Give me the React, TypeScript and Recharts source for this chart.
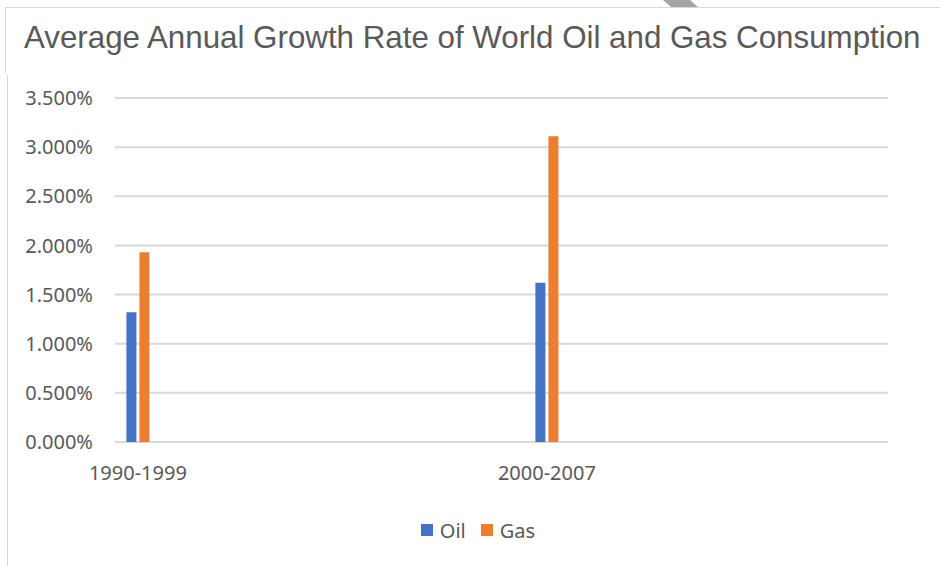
import { FC } from "react";
import {
  Bar,
  BarChart,
  CartesianGrid,
  Legend,
  XAxis,
  YAxis,
} from "recharts";

// growth rates in percent per year
const periods = ["1990-1999", "2000-2007"];
const seriesNames = ["Oil", "Gas"];
const oilGrowth = [1.32, 1.62];
const gasGrowth = [1.93, 3.11];
const yTicks = [0, 0.5, 1, 1.5, 2, 2.5, 3, 3.5];

const chartData = periods.map((period, idx) => ({
  idx,
  period,
  oil: oilGrowth[idx],
  gas: gasGrowth[idx],
}));

const textColor = "#595959";
const gridColor = "#d9d9d9";
const labelFont = "'Noto Sans', 'Open Sans', sans-serif";

const renderLegend = (props: any) => {
  const items = [...(props.payload || [])].sort(
    (a: any, b: any) =>
      seriesNames.indexOf(a.value) - seriesNames.indexOf(b.value)
  );
  return (
    <div
      style={{
        display: "flex",
        justifyContent: "center",
        alignItems: "center",
        height: 24,
        fontFamily: labelFont,
        fontSize: 20,
        color: textColor,
      }}
    >
      {items.map((item: any, i: number) => (
        <span
          key={item.value}
          style={{
            display: "flex",
            alignItems: "center",
            marginLeft: i === 0 ? 0 : 15,
          }}
        >
          <span
            style={{
              display: "inline-block",
              width: 12,
              height: 12,
              background: item.color,
              marginRight: 7,
            }}
          />
          {item.value}
        </span>
      ))}
    </div>
  );
};

const GrowthChart: FC = () => {
  return (
    <div
      style={{
        position: "absolute",
        left: 0,
        top: 0,
        width: 940,
        height: 566,
        overflow: "hidden",
        background: "#fff",
      }}
    >
      <svg
        width={940}
        height={566}
        style={{ position: "absolute", left: 0, top: 0 }}
      >
        <line x1={5.5} y1={7.5} x2={940} y2={7.5} stroke={gridColor} />
        <line x1={5.5} y1={7} x2={5.5} y2={73} stroke={gridColor} />
        <line x1={7.5} y1={75} x2={7.5} y2={566} stroke={gridColor} />
        <polygon points="663,0 690,0 698,7 671,7" fill="#a3a3a3" />
        <text
          x={24}
          y={48}
          fontFamily="'Liberation Sans', Arial, sans-serif"
          fontSize={31.3}
          fill={textColor}
        >
          Average Annual Growth Rate of World Oil and Gas Consumption
        </text>
      </svg>
      <div style={{ position: "absolute", left: 0, top: 0 }}>
        <BarChart
          width={940}
          height={566}
          data={chartData}
          margin={{ top: 98, right: 52, bottom: 50, left: 0 }}
          barGap={3}
        >
          <CartesianGrid
            vertical={false}
            stroke={gridColor}
            strokeWidth={2}
          />
          <XAxis
            dataKey="idx"
            type="number"
            domain={[-0.056, 1.834]}
            ticks={[0, 1]}
            tickFormatter={(i: number) => periods[i]}
            axisLine={false}
            tickLine={false}
            tickSize={0}
            tickMargin={24}
            height={50}
            tick={{ fill: textColor, fontSize: 20, fontFamily: labelFont }}
          />
          <YAxis
            domain={[0, 3.5]}
            ticks={yTicks}
            tickFormatter={(v: number) => `${v.toFixed(3)}%`}
            axisLine={false}
            tickLine={false}
            tickSize={0}
            tickMargin={22}
            width={115}
            tick={{ fill: textColor, fontSize: 20, fontFamily: labelFont }}
          />
          <Legend
            verticalAlign="bottom"
            content={renderLegend}
            wrapperStyle={{ left: 0, top: 518, width: 956, height: 24 }}
          />
          <Bar
            dataKey="oil"
            name={seriesNames[0]}
            fill="#4472C4"
            barSize={10}
            isAnimationActive={false}
          />
          <Bar
            dataKey="gas"
            name={seriesNames[1]}
            fill="#ED7D31"
            barSize={10}
            isAnimationActive={false}
          />
        </BarChart>
      </div>
    </div>
  );
};

export default function App() {
  return <GrowthChart />;
}
